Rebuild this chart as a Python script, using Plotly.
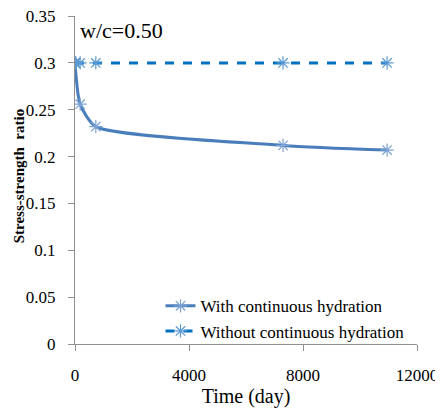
import plotly.graph_objects as go

# time (day) and stress-strength ratio
t_with = [0, 180, 730, 7300, 10950]
r_with = [0.3, 0.256, 0.232, 0.212, 0.207]
t_without = [0, 30, 180, 730, 7300, 10950]
r_without = [0.3, 0.3, 0.3, 0.3, 0.3, 0.3]

font = "Liberation Serif, Times New Roman, serif"

fig = go.Figure()
fig.add_trace(go.Scatter(
    x=t_with, y=r_with, mode="lines+markers", name="With continuous hydration",
    line=dict(color="#4a7ebb", width=3, shape="spline", smoothing=0.6),
    marker=dict(symbol="asterisk-open", size=11, color="#7da2d6",
                line=dict(width=1.2, color="#7da2d6"))))
fig.add_trace(go.Scatter(
    x=t_without, y=r_without, mode="lines+markers", name="Without continuous hydration",
    line=dict(color="#0070c0", width=3, dash="dash"),
    marker=dict(symbol="asterisk-open", size=11, color="#5b9bd5",
                line=dict(width=1.2, color="#5b9bd5"))))

fig.add_annotation(text="w/c=0.50", xref="paper", yref="paper", x=0.01, y=1.0,
                   xanchor="left", yanchor="top", showarrow=False,
                   font=dict(family=font, size=22, color="black"))

# y-axis title placed as a rotated annotation
fig.add_annotation(text="<b>Stress-strength  ratio</b>", textangle=-90,
                   xref="paper", yref="paper", x=-0.165, y=0.51,
                   xanchor="center", yanchor="middle", showarrow=False,
                   font=dict(family=font, size=15, color="black"))

# page body has an 8px margin, so the figure is sized to fit the window
fig.update_layout(
    width=435, height=401,
    margin=dict(l=67, r=26, t=8, b=65),
    paper_bgcolor="white", plot_bgcolor="white",
    font=dict(family=font, size=17, color="black"),
    showlegend=True,
    legend=dict(x=0.25, y=0.17, xanchor="left", yanchor="top",
                bgcolor="rgba(0,0,0,0)", font=dict(size=17),
                tracegroupgap=0, itemwidth=30),
    xaxis=dict(range=[0, 12000], tickvals=[0, 4000, 8000, 12000], tickformat="d",
               showgrid=False, zeroline=False, showline=True, linecolor="#909090",
               ticks="outside", ticklen=6, tickcolor="#909090",
               ticklabelstandoff=10, ticklabeloverflow="allow", automargin=False,
               title=dict(text="Time (day)", standoff=0)),
    yaxis=dict(range=[0, 0.3501], tickvals=[0, 0.05, 0.1, 0.15, 0.2, 0.25, 0.3, 0.35],
               showgrid=False, zeroline=False, showline=True, linecolor="#909090",
               ticks="outside", ticklen=6, tickcolor="#909090",
               ticklabelstandoff=9, ticklabeloverflow="allow", automargin=False),
)

fig.write_html("out.html")
